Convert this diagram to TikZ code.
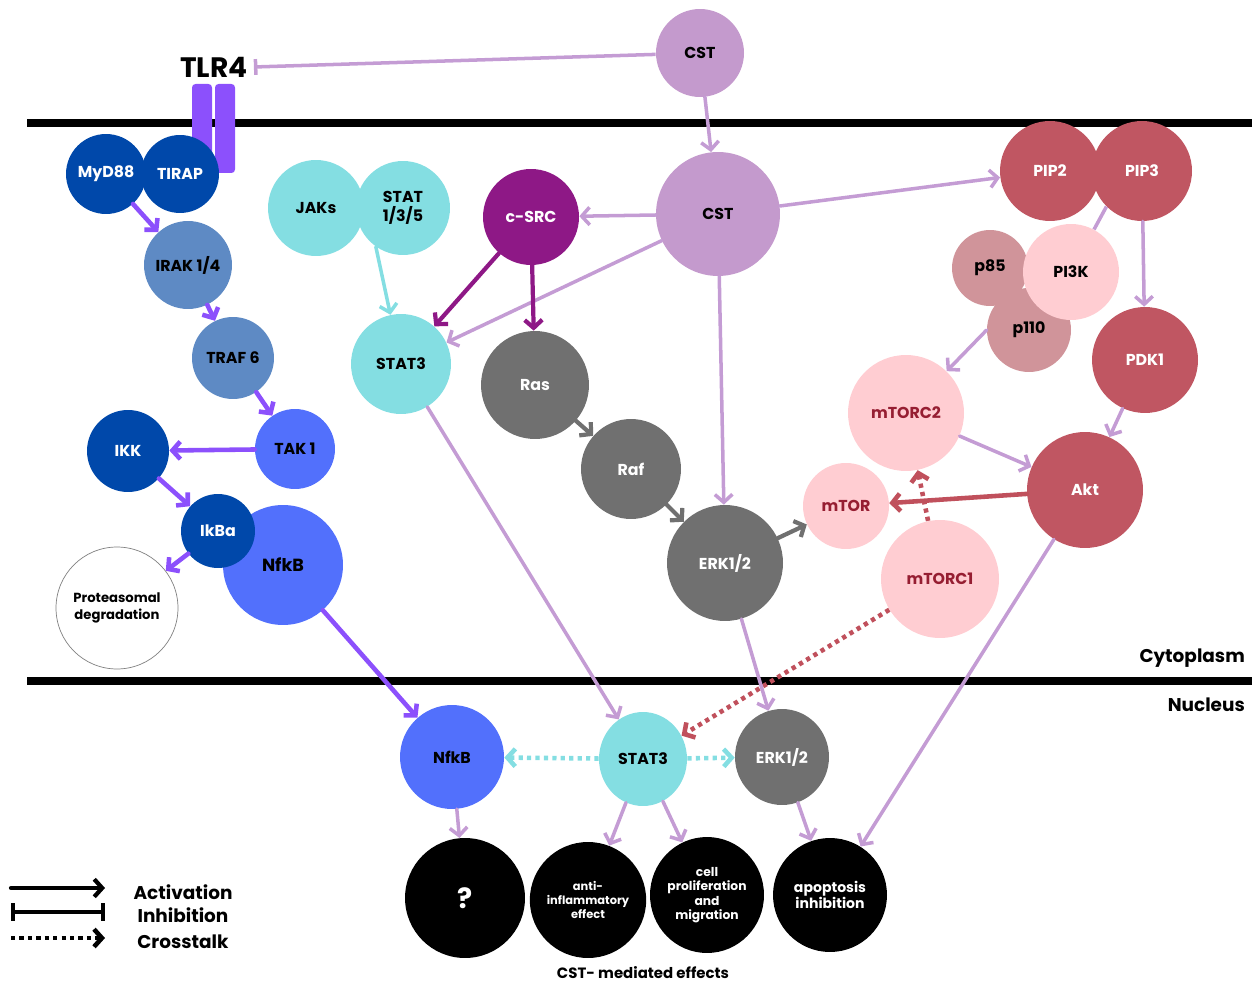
\documentclass[tikz,border=0pt]{standalone}
\usepackage{fontspec}
\setmainfont{Poppins}
\usetikzlibrary{arrows.meta,shapes.geometric}
\definecolor{cstc}{RGB}{196,154,205}
\definecolor{lil}{RGB}{196,156,212}
\definecolor{navy}{RGB}{0,72,170}
\definecolor{steel}{RGB}{94,138,196}
\definecolor{royal}{RGB}{82,112,252}
\definecolor{tlrv}{RGB}{140,80,252}
\definecolor{cyanc}{RGB}{132,222,226}
\definecolor{srcc}{RGB}{142,24,134}
\definecolor{grayc}{RGB}{112,112,112}
\definecolor{wine}{RGB}{192,86,98}
\definecolor{rose}{RGB}{208,148,154}
\definecolor{blush}{RGB}{255,205,210}
\definecolor{winetxt}{RGB}{150,30,50}
\definecolor{redarr}{RGB}{192,80,92}
\tikzset{
  mol/.style={circle, inner sep=0pt, align=center, minimum size=#1,
    font=\bfseries\fontsize{9}{10.5}\selectfont},
  eff/.style={ellipse, fill=black, text=white, inner sep=0pt, align=center,
    font=\bfseries\fontsize{7}{8.2}\selectfont},
  act/.style={-{Straight Barb[length=4.5pt,width=10pt]}, line width=2pt, line cap=round},
  inh/.style={-{Bar[width=9pt]}, line width=2pt},
  xtalk/.style={-{Straight Barb[length=4.5pt,width=10pt]}, line width=2.6pt,
    dash pattern=on 2.4pt off 2.4pt},
  membrane/.style={line width=4.5pt},
  side/.style={font=\bfseries\fontsize{10.5}{12}\selectfont}
}
\begin{document}
\begin{tikzpicture}[x=0.02cm, y=-0.02cm]
  \useasboundingbox (0,0) rectangle (1257,986);
  % membranes
  \draw[membrane] (27,123) -- (1252,123);
  \draw[membrane] (27,681) -- (1252,681);
  \fill[tlrv, rounded corners=2pt] (192,84) rectangle (212,173);
  \fill[tlrv, rounded corners=2pt] (215,84) rectangle (235,173);
  \node[font=\bfseries\fontsize{16}{18}\selectfont] (tlr4) at (214,67) {TLR4};
  \node[side, anchor=east] (cyto) at (1251,658) {Cytoplasm};
  \node[side, anchor=east] (nucl) at (1251,705) {Nucleus};

  % TLR4 branch
  \node[mol=1.6cm, fill=navy, text=white] (myd) at (106,174) {MyD88};
  \node[mol=1.56cm, fill=navy, text=white] (tirap) at (180,174) {TIRAP};
  \node[mol=1.76cm, fill=steel] (irak) at (188,265) {IRAK 1/4};
  \node[mol=1.64cm, fill=steel] (traf) at (233,358) {TRAF 6};
  \node[mol=1.6cm, fill=royal] (tak) at (295,449) {TAK 1};
  \node[mol=1.64cm, fill=navy, text=white] (ikk) at (128,451) {IKK};
  \node[mol=2.4cm, fill=royal, font=\bfseries\fontsize{10}{12}\selectfont] (nfkb) at (283,565) {NfkB};
  \node[mol=1.48cm, fill=navy, text=white] (ikba) at (218,531) {IkBa};
  \node[mol=2.44cm, draw=gray, thin, fill=white, font=\bfseries\fontsize{7.5}{10}\selectfont] (prot) at (117,608) {Proteasomal\\degradation};

  % CST and middle
  \node[mol=1.76cm, fill=cstc] (cst0) at (700,53) {CST};
  \node[mol=2.48cm, fill=cstc] (cst) at (718,214) {CST};
  \node[mol=1.92cm, fill=cyanc] (jaks) at (316,208) {JAKs};
  \node[mol=1.88cm, fill=cyanc] (stat) at (403,208) {STAT\\1/3/5};
  \node[mol=2cm, fill=cyanc] (stat3) at (401,364) {STAT3};
  \node[mol=1.92cm, fill=srcc, text=white] (csrc) at (531,217) {c-SRC};
  \node[mol=2.16cm, fill=grayc, text=white] (ras) at (535,385) {Ras};
  \node[mol=2cm, fill=grayc, text=white] (raf) at (631,469) {Raf};
  \node[mol=2.32cm, fill=grayc, text=white] (erk) at (725,563) {ERK1/2};

  % PI3K / Akt / mTOR
  \node[mol=2cm, fill=wine, text=white] (pip2) at (1050,171) {PIP2};
  \node[mol=2cm, fill=wine, text=white] (pip3) at (1142,171) {PIP3};
  \node[mol=1.52cm, fill=rose] (p85) at (990,268) {p85};
  \node[mol=1.68cm, fill=rose] (p110) at (1029,330) {p110};
  \node[mol=1.92cm, fill=blush] (pi3k) at (1071,272) {PI3K};
  \node[mol=2.12cm, fill=wine, text=white] (pdk) at (1145,360) {PDK1};
  \node[mol=2.32cm, fill=wine, text=white] (akt) at (1085,490) {Akt};
  \node[mol=2.32cm, fill=blush, text=winetxt] (mtorc2) at (906,413) {mTORC2};
  \node[mol=1.72cm, fill=blush, text=winetxt] (mtor) at (846,506) {mTOR};
  \node[mol=2.36cm, fill=blush, text=winetxt] (mtorc1) at (940,579) {mTORC1};

  % nucleus
  \node[mol=2.08cm, fill=royal] (nfkbn) at (452,757) {NfkB};
  \node[ellipse, inner sep=0pt, minimum width=1.76cm, minimum height=1.88cm, fill=cyanc,
    font=\bfseries\fontsize{9}{10.5}\selectfont] (stat3n) at (643,759) {STAT3};
  \node[ellipse, inner sep=0pt, minimum width=1.88cm, minimum height=1.92cm, fill=grayc, text=white,
    font=\bfseries\fontsize{9}{10.5}\selectfont] (erkn) at (782,757) {ERK1/2};
  \node[eff, minimum width=2.4cm, minimum height=2.4cm, font=\bfseries\fontsize{16}{18}\selectfont] (unk) at (465,898) {?};
  \node[eff, minimum width=2.32cm, minimum height=2.32cm, font=\bfseries\fontsize{6.5}{8}\selectfont] (anti) at (588,900) {anti-\\inflammatory\\effect};
  \node[eff, minimum width=2.28cm, minimum height=2.32cm] (cell) at (707,895) {cell\\proliferation\\and\\migration};
  \node[eff, minimum width=2.28cm, minimum height=2.28cm, font=\bfseries\fontsize{8}{9.5}\selectfont] (apop) at (830,895) {apoptosis\\inhibition};
  \node[font=\bfseries\fontsize{8.5}{10}\selectfont] (cstfx) at (643,973) {CST- mediated effects};

  % TLR4 cascade
  \draw[act, tlrv, line width=2.6pt] (myd) -- (irak);
  \draw[act, tlrv, line width=2.6pt] (irak) -- (traf);
  \draw[act, tlrv, line width=2.6pt] (traf) -- (tak);
  \draw[act, tlrv, line width=2.6pt] (tak) -- (ikk);
  \draw[act, tlrv, line width=2.6pt] (ikk) -- (ikba);
  \draw[act, tlrv, line width=2.6pt] (ikba) -- (prot);
  \draw[act, tlrv, line width=2.6pt] (nfkb) -- (nfkbn);

  % CST arrows
  \draw[inh, lil] (cst0) -- (tlr4.east);
  \draw[act, lil] (cst0) -- (cst);
  \draw[act, lil] (cst) -- (csrc);
  \draw[act, lil] (cst) -- (stat3);
  \draw[act, lil] (cst) -- (pip2);
  \draw[act, lil] (cst) -- (erk);
  \draw[act, cyanc] (stat.235) -- (stat3);
  \draw[act, srcc, line width=2.4pt] (csrc) -- (stat3);
  \draw[act, srcc, line width=2.4pt] (csrc) -- (ras);
  \draw[act, grayc, line width=2.4pt] (ras) -- (raf);
  \draw[act, grayc, line width=2.4pt] (raf) -- (erk);
  \draw[act, grayc, line width=2.4pt] (erk) -- (mtor);

  % PI3K arrows
  \draw[lil, line width=2pt] (pip3.225) -- (pi3k);
  \draw[act, lil] (pip3) -- (pdk);
  \draw[act, lil] (p110.west) -- (mtorc2);
  \draw[act, lil] (pdk) -- (akt);
  \draw[act, lil] (mtorc2) -- (akt);
  \draw[act, redarr, line width=2.6pt] (akt) -- (mtor);
  \draw[xtalk, redarr] (mtorc1) -- (mtorc2);
  \draw[xtalk, redarr] (mtorc1) -- (stat3n);

  % into the nucleus
  \draw[act, lil] (stat3) -- (stat3n);
  \draw[act, lil] (erk) -- (erkn);
  \draw[act, lil] (akt) -- (apop);
  \draw[xtalk, cyanc] (stat3n) -- (nfkbn);
  \draw[xtalk, cyanc] (stat3n) -- (erkn);
  \draw[act, lil] (nfkbn) -- (unk);
  \draw[act, lil] (stat3n) -- (anti);
  \draw[act, lil] (stat3n) -- (cell);
  \draw[act, lil] (erkn) -- (apop);

  % legend
  \coordinate (la0) at (11,888); \coordinate (la1) at (105,888);
  \coordinate (li0) at (11,912); \coordinate (li1) at (105,912);
  \coordinate (lx0) at (11,938); \coordinate (lx1) at (105,938);
  \draw[act, line width=2.4pt] (la0) -- (la1);
  \draw[{Bar[width=10pt]}-{Bar[width=10pt]}, line width=2.4pt] (li0) -- (li1);
  \draw[xtalk, line width=2.6pt, black] (lx0) -- (lx1);
  \node[side] (lact) at (183,892) {Activation};
  \node[side] (linh) at (183,915) {Inhibition};
  \node[side] (lxt) at (183,942) {Crosstalk};
\end{tikzpicture}
\end{document}
